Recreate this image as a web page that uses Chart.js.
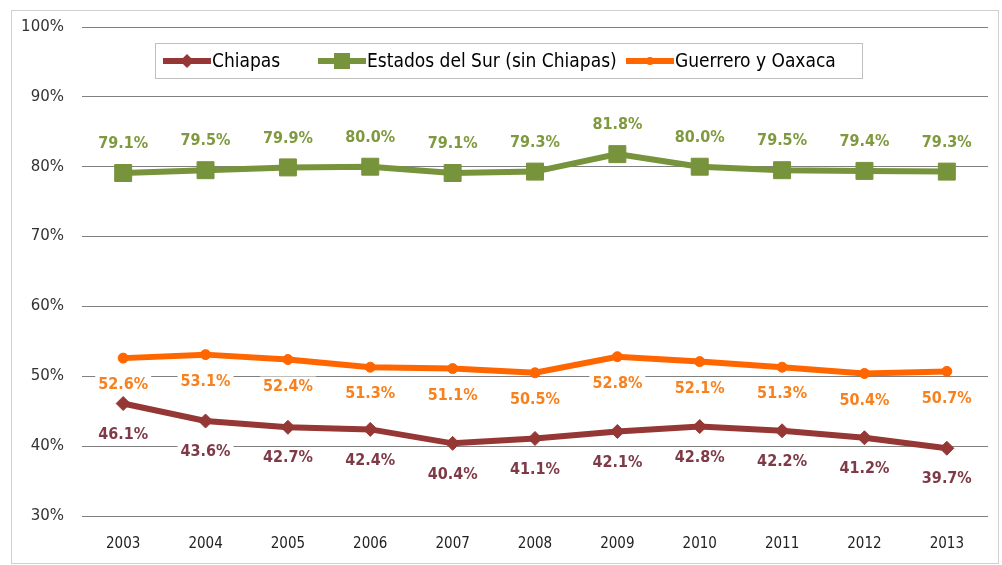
<!DOCTYPE html>
<html>
<head>
<meta charset="utf-8">
<script src="https://cdn.jsdelivr.net/npm/chart.js@4.4.1/dist/chart.umd.min.js"></script>
<style>
  html, body { margin: 0; padding: 0; background: #fff; }
  #wrap { position: relative; width: 1002px; height: 565px; }
</style>
</head>
<body>
<div id="wrap"><canvas id="chart" width="1002" height="565"></canvas></div>
<script>
// data
var years = ['2003', '2004', '2005', '2006', '2007', '2008', '2009', '2010', '2011', '2012', '2013'];
var chiapas = [46.1, 43.6, 42.7, 42.4, 40.4, 41.1, 42.1, 42.8, 42.2, 41.2, 39.7];
var estadosSur = [79.1, 79.5, 79.9, 80.0, 79.1, 79.3, 81.8, 80.0, 79.5, 79.4, 79.3];
var guerreroOaxaca = [52.6, 53.1, 52.4, 51.3, 51.1, 50.5, 52.8, 52.1, 51.3, 50.4, 50.7];
var seriesNames = ['Chiapas', 'Estados del Sur (sin Chiapas)', 'Guerrero y Oaxaca'];

var RED = '#953735', GREEN = '#77933C', ORANGE = '#FF6600';
var labelFont = 'bold 16px "DejaVu Sans Condensed", "DejaVu Sans", sans-serif';

// frame round the whole picture
var framePlugin = {
    id: 'frame',
    beforeDraw: function (chart) {
        var ctx = chart.ctx;
        ctx.save();
        ctx.strokeStyle = '#D0D0D0';
        ctx.lineWidth = 1;
        ctx.strokeRect(11.5, 10.5, 987, 553);
        ctx.restore();
    }
};

// value labels with white boxes (they cut the grid lines like in excel)
var valueLabels = {
    id: 'valueLabels',
    afterDatasetsDraw: function (chart) {
        var ctx = chart.ctx;
        ctx.save();
        ctx.font = labelFont;
        ctx.textAlign = 'center';
        ctx.textBaseline = 'middle';
        chart.data.datasets.forEach(function (ds, i) {
            var meta = chart.getDatasetMeta(i);
            meta.data.forEach(function (pt, j) {
                var txt = ds.data[j].toFixed(1) + '%';
                var y = pt.y + ds.labelOffset;
                var w = ctx.measureText(txt).width;
                ctx.fillStyle = '#fff';
                ctx.fillRect(pt.x - w / 2 - 3, y - 10, w + 6, 20);
                ctx.fillStyle = ds.labelColor;
                ctx.fillText(txt, pt.x, y);
            });
        });
        ctx.restore();
    }
};

// legend box inside the plot, drawn by hand
var boxLegend = {
    id: 'boxLegend',
    afterDraw: function (chart) {
        var ctx = chart.ctx;
        ctx.save();
        ctx.fillStyle = '#fff';
        ctx.fillRect(155, 43, 707, 35);
        ctx.strokeStyle = '#BFBFBF';
        ctx.lineWidth = 1;
        ctx.strokeRect(155.5, 43.5, 707, 35);
        ctx.font = '19px "DejaVu Sans Condensed", "DejaVu Sans", sans-serif';
        ctx.textBaseline = 'middle';
        ctx.textAlign = 'left';
        var xs = [163, 318, 626];
        var yMid = 61;
        chart.data.datasets.forEach(function (ds, i) {
            var x = xs[i];
            ctx.strokeStyle = ds.borderColor;
            ctx.lineWidth = 6;
            ctx.beginPath();
            ctx.moveTo(x, yMid);
            ctx.lineTo(x + 48, yMid);
            ctx.stroke();
            ctx.fillStyle = ds.borderColor;
            var cx = x + 24;
            if (ds.pointStyle === 'rectRot') {
                ctx.beginPath();
                ctx.moveTo(cx, yMid - 7); ctx.lineTo(cx + 7, yMid);
                ctx.lineTo(cx, yMid + 7); ctx.lineTo(cx - 7, yMid);
                ctx.closePath(); ctx.fill();
            } else if (ds.pointStyle === 'rect') {
                ctx.fillRect(cx - 8, yMid - 8, 16, 16);
            } else {
                ctx.beginPath(); ctx.arc(cx, yMid, 4, 0, Math.PI * 2); ctx.fill();
            }
            ctx.fillStyle = '#000';
            ctx.fillText(ds.label, x + 49, yMid + 1);
        });
        ctx.restore();
    }
};

var ctx_chart = document.getElementById('chart').getContext('2d');
var chart = new Chart(ctx_chart, {
    type: 'line',
    data: {
        labels: years,
        datasets: [{
            label: seriesNames[0],
            data: chiapas,
            borderColor: RED,
            backgroundColor: RED,
            borderWidth: 6,
            pointStyle: 'rectRot',
            pointRadius: 7,
            pointBorderWidth: 1,
            labelColor: '#7E3B47',
            labelOffset: 31
        }, {
            label: seriesNames[1],
            data: estadosSur,
            borderColor: GREEN,
            backgroundColor: GREEN,
            borderWidth: 6,
            pointStyle: 'rect',
            pointRadius: 12,
            pointBorderWidth: 1,
            labelColor: '#7F9A3E',
            labelOffset: -29
        }, {
            label: seriesNames[2],
            data: guerreroOaxaca,
            borderColor: ORANGE,
            backgroundColor: ORANGE,
            borderWidth: 6,
            pointStyle: 'circle',
            pointRadius: 5,
            pointBorderWidth: 1,
            labelColor: '#F7811E',
            labelOffset: 27
        }]
    },
    options: {
        responsive: false,
        animation: false,
        devicePixelRatio: 1,
        layout: { padding: { top: 27, right: 14, left: 0, bottom: 0 } },
        elements: { line: { tension: 0 } },
        plugins: {
            legend: { display: false },
            tooltip: { enabled: false }
        },
        scales: {
            x: {
                offset: true,
                grid: { display: false, drawTicks: false },
                border: { display: false },
                ticks: {
                    color: '#222',
                    padding: 19,
                    font: { family: '"DejaVu Sans Condensed", "DejaVu Sans", sans-serif', size: 15 }
                },
                afterFit: function (scale) { scale.height = 49; }
            },
            y: {
                min: 30,
                max: 100,
                grid: { color: '#808080', lineWidth: 1, drawTicks: false },
                border: { display: false },
                ticks: {
                    stepSize: 10,
                    padding: 18,
                    color: '#333',
                    font: { family: '"DejaVu Sans", sans-serif', size: 15 },
                    callback: function (v) { return v + '%'; }
                },
                afterFit: function (scale) { scale.width = 82; }
            }
        }
    },
    plugins: [framePlugin, valueLabels, boxLegend]
});
</script>
</body>
</html>
